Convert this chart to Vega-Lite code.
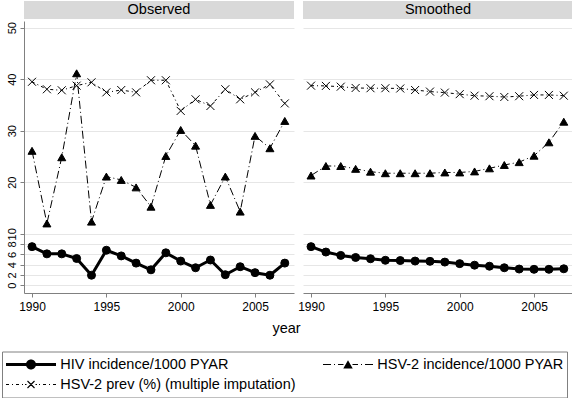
{
  "$schema": "https://vega.github.io/schema/vega-lite/v6.json",
  "padding": {"left": 1, "top": 1, "right": 0, "bottom": 0},
  "background": "white",
  "datasets": {
    "headers": [{"panel": "Observed"}, {"panel": "Smoothed"}],
    "obs": [
      {"year": 1990, "series": "HIV incidence/1000 PYAR", "value": 7.5},
      {"year": 1991, "series": "HIV incidence/1000 PYAR", "value": 6.1},
      {"year": 1992, "series": "HIV incidence/1000 PYAR", "value": 6.1},
      {"year": 1993, "series": "HIV incidence/1000 PYAR", "value": 5.2},
      {"year": 1994, "series": "HIV incidence/1000 PYAR", "value": 1.95},
      {"year": 1995, "series": "HIV incidence/1000 PYAR", "value": 6.8},
      {"year": 1996, "series": "HIV incidence/1000 PYAR", "value": 5.7},
      {"year": 1997, "series": "HIV incidence/1000 PYAR", "value": 4.3},
      {"year": 1998, "series": "HIV incidence/1000 PYAR", "value": 3.0},
      {"year": 1999, "series": "HIV incidence/1000 PYAR", "value": 6.3},
      {"year": 2000, "series": "HIV incidence/1000 PYAR", "value": 4.7},
      {"year": 2001, "series": "HIV incidence/1000 PYAR", "value": 3.4},
      {"year": 2002, "series": "HIV incidence/1000 PYAR", "value": 4.9},
      {"year": 2003, "series": "HIV incidence/1000 PYAR", "value": 2.05},
      {"year": 2004, "series": "HIV incidence/1000 PYAR", "value": 3.6},
      {"year": 2005, "series": "HIV incidence/1000 PYAR", "value": 2.45},
      {"year": 2006, "series": "HIV incidence/1000 PYAR", "value": 1.95},
      {"year": 2007, "series": "HIV incidence/1000 PYAR", "value": 4.3},
      {"year": 1990, "series": "HSV-2 incidence/1000 PYAR", "value": 26.1},
      {"year": 1991, "series": "HSV-2 incidence/1000 PYAR", "value": 12.0},
      {"year": 1992, "series": "HSV-2 incidence/1000 PYAR", "value": 24.85},
      {"year": 1993, "series": "HSV-2 incidence/1000 PYAR", "value": 41.15},
      {"year": 1994, "series": "HSV-2 incidence/1000 PYAR", "value": 12.35},
      {"year": 1995, "series": "HSV-2 incidence/1000 PYAR", "value": 21.1},
      {"year": 1996, "series": "HSV-2 incidence/1000 PYAR", "value": 20.45},
      {"year": 1997, "series": "HSV-2 incidence/1000 PYAR", "value": 19.0},
      {"year": 1998, "series": "HSV-2 incidence/1000 PYAR", "value": 15.25},
      {"year": 1999, "series": "HSV-2 incidence/1000 PYAR", "value": 25.1},
      {"year": 2000, "series": "HSV-2 incidence/1000 PYAR", "value": 30.15},
      {"year": 2001, "series": "HSV-2 incidence/1000 PYAR", "value": 27.1},
      {"year": 2002, "series": "HSV-2 incidence/1000 PYAR", "value": 15.6},
      {"year": 2003, "series": "HSV-2 incidence/1000 PYAR", "value": 21.1},
      {"year": 2004, "series": "HSV-2 incidence/1000 PYAR", "value": 14.3},
      {"year": 2005, "series": "HSV-2 incidence/1000 PYAR", "value": 29.0},
      {"year": 2006, "series": "HSV-2 incidence/1000 PYAR", "value": 26.6},
      {"year": 2007, "series": "HSV-2 incidence/1000 PYAR", "value": 31.9},
      {"year": 1990, "series": "HSV-2 prev (%) (multiple imputation)", "value": 39.5},
      {"year": 1991, "series": "HSV-2 prev (%) (multiple imputation)", "value": 38.05},
      {"year": 1992, "series": "HSV-2 prev (%) (multiple imputation)", "value": 37.85},
      {"year": 1993, "series": "HSV-2 prev (%) (multiple imputation)", "value": 38.75},
      {"year": 1994, "series": "HSV-2 prev (%) (multiple imputation)", "value": 39.4},
      {"year": 1995, "series": "HSV-2 prev (%) (multiple imputation)", "value": 37.45},
      {"year": 1996, "series": "HSV-2 prev (%) (multiple imputation)", "value": 37.9},
      {"year": 1997, "series": "HSV-2 prev (%) (multiple imputation)", "value": 37.45},
      {"year": 1998, "series": "HSV-2 prev (%) (multiple imputation)", "value": 39.8},
      {"year": 1999, "series": "HSV-2 prev (%) (multiple imputation)", "value": 39.8},
      {"year": 2000, "series": "HSV-2 prev (%) (multiple imputation)", "value": 33.85},
      {"year": 2001, "series": "HSV-2 prev (%) (multiple imputation)", "value": 36.1},
      {"year": 2002, "series": "HSV-2 prev (%) (multiple imputation)", "value": 34.8},
      {"year": 2003, "series": "HSV-2 prev (%) (multiple imputation)", "value": 38.05},
      {"year": 2004, "series": "HSV-2 prev (%) (multiple imputation)", "value": 36.1},
      {"year": 2005, "series": "HSV-2 prev (%) (multiple imputation)", "value": 37.45},
      {"year": 2006, "series": "HSV-2 prev (%) (multiple imputation)", "value": 39.0},
      {"year": 2007, "series": "HSV-2 prev (%) (multiple imputation)", "value": 35.3}
    ],
    "smo": [
      {"year": 1990, "series": "HIV incidence/1000 PYAR", "value": 7.5},
      {"year": 1991, "series": "HIV incidence/1000 PYAR", "value": 6.45},
      {"year": 1992, "series": "HIV incidence/1000 PYAR", "value": 5.8},
      {"year": 1993, "series": "HIV incidence/1000 PYAR", "value": 5.4},
      {"year": 1994, "series": "HIV incidence/1000 PYAR", "value": 5.15},
      {"year": 1995, "series": "HIV incidence/1000 PYAR", "value": 4.85},
      {"year": 1996, "series": "HIV incidence/1000 PYAR", "value": 4.8},
      {"year": 1997, "series": "HIV incidence/1000 PYAR", "value": 4.7},
      {"year": 1998, "series": "HIV incidence/1000 PYAR", "value": 4.65},
      {"year": 1999, "series": "HIV incidence/1000 PYAR", "value": 4.5},
      {"year": 2000, "series": "HIV incidence/1000 PYAR", "value": 4.2},
      {"year": 2001, "series": "HIV incidence/1000 PYAR", "value": 3.9},
      {"year": 2002, "series": "HIV incidence/1000 PYAR", "value": 3.7},
      {"year": 2003, "series": "HIV incidence/1000 PYAR", "value": 3.4},
      {"year": 2004, "series": "HIV incidence/1000 PYAR", "value": 3.15},
      {"year": 2005, "series": "HIV incidence/1000 PYAR", "value": 3.1},
      {"year": 2006, "series": "HIV incidence/1000 PYAR", "value": 3.1},
      {"year": 2007, "series": "HIV incidence/1000 PYAR", "value": 3.2},
      {"year": 1990, "series": "HSV-2 incidence/1000 PYAR", "value": 21.3},
      {"year": 1991, "series": "HSV-2 incidence/1000 PYAR", "value": 23.15},
      {"year": 1992, "series": "HSV-2 incidence/1000 PYAR", "value": 23.15},
      {"year": 1993, "series": "HSV-2 incidence/1000 PYAR", "value": 22.6},
      {"year": 1994, "series": "HSV-2 incidence/1000 PYAR", "value": 22.05},
      {"year": 1995, "series": "HSV-2 incidence/1000 PYAR", "value": 21.75},
      {"year": 1996, "series": "HSV-2 incidence/1000 PYAR", "value": 21.75},
      {"year": 1997, "series": "HSV-2 incidence/1000 PYAR", "value": 21.75},
      {"year": 1998, "series": "HSV-2 incidence/1000 PYAR", "value": 21.75},
      {"year": 1999, "series": "HSV-2 incidence/1000 PYAR", "value": 21.9},
      {"year": 2000, "series": "HSV-2 incidence/1000 PYAR", "value": 21.9},
      {"year": 2001, "series": "HSV-2 incidence/1000 PYAR", "value": 22.1},
      {"year": 2002, "series": "HSV-2 incidence/1000 PYAR", "value": 22.7},
      {"year": 2003, "series": "HSV-2 incidence/1000 PYAR", "value": 23.35},
      {"year": 2004, "series": "HSV-2 incidence/1000 PYAR", "value": 23.9},
      {"year": 2005, "series": "HSV-2 incidence/1000 PYAR", "value": 25.15},
      {"year": 2006, "series": "HSV-2 incidence/1000 PYAR", "value": 27.75},
      {"year": 2007, "series": "HSV-2 incidence/1000 PYAR", "value": 31.75},
      {"year": 1990, "series": "HSV-2 prev (%) (multiple imputation)", "value": 38.75},
      {"year": 1991, "series": "HSV-2 prev (%) (multiple imputation)", "value": 38.7},
      {"year": 1992, "series": "HSV-2 prev (%) (multiple imputation)", "value": 38.55},
      {"year": 1993, "series": "HSV-2 prev (%) (multiple imputation)", "value": 38.3},
      {"year": 1994, "series": "HSV-2 prev (%) (multiple imputation)", "value": 38.25},
      {"year": 1995, "series": "HSV-2 prev (%) (multiple imputation)", "value": 38.25},
      {"year": 1996, "series": "HSV-2 prev (%) (multiple imputation)", "value": 38.2},
      {"year": 1997, "series": "HSV-2 prev (%) (multiple imputation)", "value": 37.9},
      {"year": 1998, "series": "HSV-2 prev (%) (multiple imputation)", "value": 37.6},
      {"year": 1999, "series": "HSV-2 prev (%) (multiple imputation)", "value": 37.4},
      {"year": 2000, "series": "HSV-2 prev (%) (multiple imputation)", "value": 37.1},
      {"year": 2001, "series": "HSV-2 prev (%) (multiple imputation)", "value": 36.8},
      {"year": 2002, "series": "HSV-2 prev (%) (multiple imputation)", "value": 36.7},
      {"year": 2003, "series": "HSV-2 prev (%) (multiple imputation)", "value": 36.55},
      {"year": 2004, "series": "HSV-2 prev (%) (multiple imputation)", "value": 36.7},
      {"year": 2005, "series": "HSV-2 prev (%) (multiple imputation)", "value": 36.95},
      {"year": 2006, "series": "HSV-2 prev (%) (multiple imputation)", "value": 36.95},
      {"year": 2007, "series": "HSV-2 prev (%) (multiple imputation)", "value": 36.8}
    ]
  },
  "spacing": 9,
  "bounds": "flush",
  "hconcat": [
    {
      "width": 270,
      "height": 272,
      "layer": [
        {
          "data": {"name": "obs"},
          "transform": [{"filter": "datum.series === 'HIV incidence/1000 PYAR'"}],
          "mark": {"type": "line", "color": "black", "strokeWidth": 3, "strokeJoin": "round"},
          "encoding": {
            "x": {"field": "year", "type": "quantitative", "scale": {"domain": [1989.46, 2007.62], "nice": false, "zero": false},
              "axis": {"values": [1990, 1995, 2000, 2005], "format": "d", "title": "year", "titleX": 262, "titleY": 39, "titleBaseline": "alphabetic", "titleAlign": "center"}},
            "y": {"field": "value", "type": "quantitative", "scale": {"domain": [-1.5, 51.3], "nice": false, "zero": false},
              "axis": {"values": [0, 2, 4, 6, 8, 10, 20, 30, 40, 50], "tickCount": 30, "title": null}}
          }
        },
        {
          "data": {"name": "obs"},
          "transform": [{"filter": "datum.series === 'HSV-2 incidence/1000 PYAR'"}],
          "mark": {"type": "line", "color": "black", "strokeWidth": 1, "strokeDash": [8, 3, 1, 3]},
          "encoding": {"x": {"field": "year", "type": "quantitative"}, "y": {"field": "value", "type": "quantitative"}}
        },
        {
          "data": {"name": "obs"},
          "transform": [{"filter": "datum.series === 'HSV-2 prev (%) (multiple imputation)'"}],
          "mark": {"type": "line", "color": "black", "strokeWidth": 1, "strokeDash": [3, 3, 1, 3]},
          "encoding": {"x": {"field": "year", "type": "quantitative"}, "y": {"field": "value", "type": "quantitative"}}
        },
        {
          "data": {"name": "obs"},
          "transform": [{"filter": "datum.series === 'HIV incidence/1000 PYAR'"}],
          "mark": {"type": "point", "shape": "circle", "filled": true, "fill": "black", "stroke": "black", "strokeWidth": 1, "size": 64, "opacity": 1},
          "encoding": {"x": {"field": "year", "type": "quantitative"}, "y": {"field": "value", "type": "quantitative"}}
        },
        {
          "data": {"name": "obs"},
          "transform": [{"filter": "datum.series === 'HSV-2 incidence/1000 PYAR'"}],
          "mark": {"type": "point", "shape": "triangle-up", "filled": true, "fill": "black", "stroke": "black", "strokeWidth": 1, "size": 64, "opacity": 1},
          "encoding": {"x": {"field": "year", "type": "quantitative"}, "y": {"field": "value", "type": "quantitative"}}
        },
        {
          "data": {"name": "obs"},
          "transform": [{"filter": "datum.series === 'HSV-2 prev (%) (multiple imputation)'"}],
          "mark": {"type": "point", "shape": "M-1,-1L1,1M-1,1L1,-1", "filled": false, "stroke": "black", "strokeWidth": 1, "size": 64, "opacity": 1},
          "encoding": {"x": {"field": "year", "type": "quantitative"}, "y": {"field": "value", "type": "quantitative"}}
        },
        {
          "data": {"name": "obs"},
          "transform": [{"filter": "datum.year < 0"}],
          "mark": {"type": "point", "filled": true, "fill": "black", "stroke": "black", "strokeWidth": 1, "size": 100, "opacity": 1},
          "encoding": {
            "x": {"field": "year", "type": "quantitative"},
            "y": {"field": "value", "type": "quantitative"},
            "shape": {"field": "series", "type": "nominal",
              "scale": {"domain": ["HIV incidence/1000 PYAR", "HSV-2 incidence/1000 PYAR", "HSV-2 prev (%) (multiple imputation)"],
                "range": [
                  "M-5,-0.3H5V0.3H-5ZM1,0A1,1 0 1,1 -1,0A1,1 0 1,1 1,0Z",
                  "M-5,-0.1H-3.4V0.1H-5Z M-2.8,-0.1H-2.6V0.1H-2.8Z M-2,-0.1H-0.9V0.1H-2Z M0.9,-0.1H2V0.1H0.9Z M2.6,-0.1H2.8V0.1H2.6Z M3.4,-0.1H5V0.1H3.4Z M0,-0.85L0.95,0.8L-0.95,0.8Z",
                  "M-5,-0.1H-4.4V0.1H-5Z M-3.8,-0.1H-3.6V0.1H-3.8Z M-3,-0.1H-2.4V0.1H-3Z M-1.8,-0.1H-1.6V0.1H-1.8Z M-1.2,-0.1H-0.9V0.1H-1.2Z M0.9,-0.1H1.2V0.1H0.9Z M1.6,-0.1H1.8V0.1H1.6Z M2.4,-0.1H3V0.1H2.4Z M3.6,-0.1H3.8V0.1H3.6Z M4.4,-0.1H5V0.1H4.4Z M-0.78,-0.62L0.62,0.78L0.78,0.62L-0.62,-0.78Z M-0.62,0.78L0.78,-0.62L0.62,-0.78L-0.78,0.62Z"
                ]},
              "legend": {"title": null}}
          }
        },
        {
          "data": {"name": "headers"},
          "transform": [{"filter": "datum.panel === 'Observed'"}],
          "mark": {"type": "rect", "fill": "#d9d9d9"},
          "encoding": {
            "x": {"datum": 1989.46, "type": "quantitative"},
            "x2": {"datum": 2007.62},
            "y": {"datum": 51.69, "type": "quantitative"},
            "y2": {"datum": 55.18}
          }
        },
        {
          "data": {"name": "headers"},
          "transform": [{"filter": "datum.panel === 'Observed'"}],
          "mark": {"type": "text", "fontSize": 14.5, "font": "Liberation Sans", "baseline": "middle", "align": "center", "color": "black"},
          "encoding": {
            "x": {"datum": 1998.54, "type": "quantitative"},
            "y": {"datum": 53.44, "type": "quantitative"},
            "text": {"field": "panel"}
          }
        }
      ]
    },
    {
      "width": 270,
      "height": 272,
      "layer": [
        {
          "data": {"name": "smo"},
          "transform": [{"filter": "datum.series === 'HIV incidence/1000 PYAR'"}],
          "mark": {"type": "line", "color": "black", "strokeWidth": 3, "strokeJoin": "round"},
          "encoding": {
            "x": {"field": "year", "type": "quantitative", "scale": {"domain": [1989.46, 2007.62], "nice": false, "zero": false},
              "axis": {"values": [1990, 1995, 2000, 2005], "format": "d", "title": null}},
            "y": {"field": "value", "type": "quantitative", "scale": {"domain": [-1.5, 51.3], "nice": false, "zero": false},
              "axis": {"values": [0, 2, 4, 6, 8, 10, 20, 30, 40, 50], "tickCount": 30, "title": null, "labels": false, "ticks": false, "domain": false}}
          }
        },
        {
          "data": {"name": "smo"},
          "transform": [{"filter": "datum.series === 'HSV-2 incidence/1000 PYAR'"}],
          "mark": {"type": "line", "color": "black", "strokeWidth": 1, "strokeDash": [8, 3, 1, 3]},
          "encoding": {"x": {"field": "year", "type": "quantitative"}, "y": {"field": "value", "type": "quantitative"}}
        },
        {
          "data": {"name": "smo"},
          "transform": [{"filter": "datum.series === 'HSV-2 prev (%) (multiple imputation)'"}],
          "mark": {"type": "line", "color": "black", "strokeWidth": 1, "strokeDash": [3, 3, 1, 3]},
          "encoding": {"x": {"field": "year", "type": "quantitative"}, "y": {"field": "value", "type": "quantitative"}}
        },
        {
          "data": {"name": "smo"},
          "transform": [{"filter": "datum.series === 'HIV incidence/1000 PYAR'"}],
          "mark": {"type": "point", "shape": "circle", "filled": true, "fill": "black", "stroke": "black", "strokeWidth": 1, "size": 64, "opacity": 1},
          "encoding": {"x": {"field": "year", "type": "quantitative"}, "y": {"field": "value", "type": "quantitative"}}
        },
        {
          "data": {"name": "smo"},
          "transform": [{"filter": "datum.series === 'HSV-2 incidence/1000 PYAR'"}],
          "mark": {"type": "point", "shape": "triangle-up", "filled": true, "fill": "black", "stroke": "black", "strokeWidth": 1, "size": 64, "opacity": 1},
          "encoding": {"x": {"field": "year", "type": "quantitative"}, "y": {"field": "value", "type": "quantitative"}}
        },
        {
          "data": {"name": "smo"},
          "transform": [{"filter": "datum.series === 'HSV-2 prev (%) (multiple imputation)'"}],
          "mark": {"type": "point", "shape": "M-1,-1L1,1M-1,1L1,-1", "filled": false, "stroke": "black", "strokeWidth": 1, "size": 64, "opacity": 1},
          "encoding": {"x": {"field": "year", "type": "quantitative"}, "y": {"field": "value", "type": "quantitative"}}
        },
        {
          "data": {"name": "headers"},
          "transform": [{"filter": "datum.panel === 'Smoothed'"}],
          "mark": {"type": "rect", "fill": "#d9d9d9"},
          "encoding": {
            "x": {"datum": 1989.46, "type": "quantitative"},
            "x2": {"datum": 2007.62},
            "y": {"datum": 51.69, "type": "quantitative"},
            "y2": {"datum": 55.18}
          }
        },
        {
          "data": {"name": "headers"},
          "transform": [{"filter": "datum.panel === 'Smoothed'"}],
          "mark": {"type": "text", "fontSize": 14.5, "font": "Liberation Sans", "baseline": "middle", "align": "center", "color": "black"},
          "encoding": {
            "x": {"datum": 1998.54, "type": "quantitative"},
            "y": {"datum": 53.44, "type": "quantitative"},
            "text": {"field": "panel"}
          }
        }
      ]
    }
  ],
  "config": {
    "font": "Liberation Sans",
    "view": {"stroke": null},
    "axis": {"domainColor": "#808080", "tickColor": "#808080", "gridColor": "#e6e6e6", "gridWidth": 1, "labelColor": "black", "titleColor": "black", "labelFont": "Liberation Sans", "titleFont": "Liberation Sans", "tickSize": 4},
    "axisX": {"grid": false, "labelFontSize": 12, "labelPadding": 4, "labelFlush": false, "labelOverlap": false, "titleFontSize": 14.5, "titleFontWeight": "normal"},
    "axisY": {"grid": true, "labelAngle": -90, "labelAlign": "center", "labelBaseline": "bottom", "labelOverlap": false, "labelFlush": false, "labelBound": false, "labelFontSize": 11, "labelPadding": 3},
    "legend": {
      "orient": "none", "legendX": -22, "legendY": 330.5, "direction": "horizontal", "columns": 2,
      "strokeColor": "#808080", "padding": 3, "symbolSize": 100, "symbolStrokeWidth": 1, "symbolStrokeColor": "black", "symbolFillColor": "black", "symbolOffset": 18.75, "labelOffset": 22,
      "labelFontSize": 14.5, "labelFont": "Liberation Sans", "labelColor": "black", "labelLimit": 400, "clipHeight": 20, "rowPadding": 0, "columnPadding": 26
    }
  }
}
